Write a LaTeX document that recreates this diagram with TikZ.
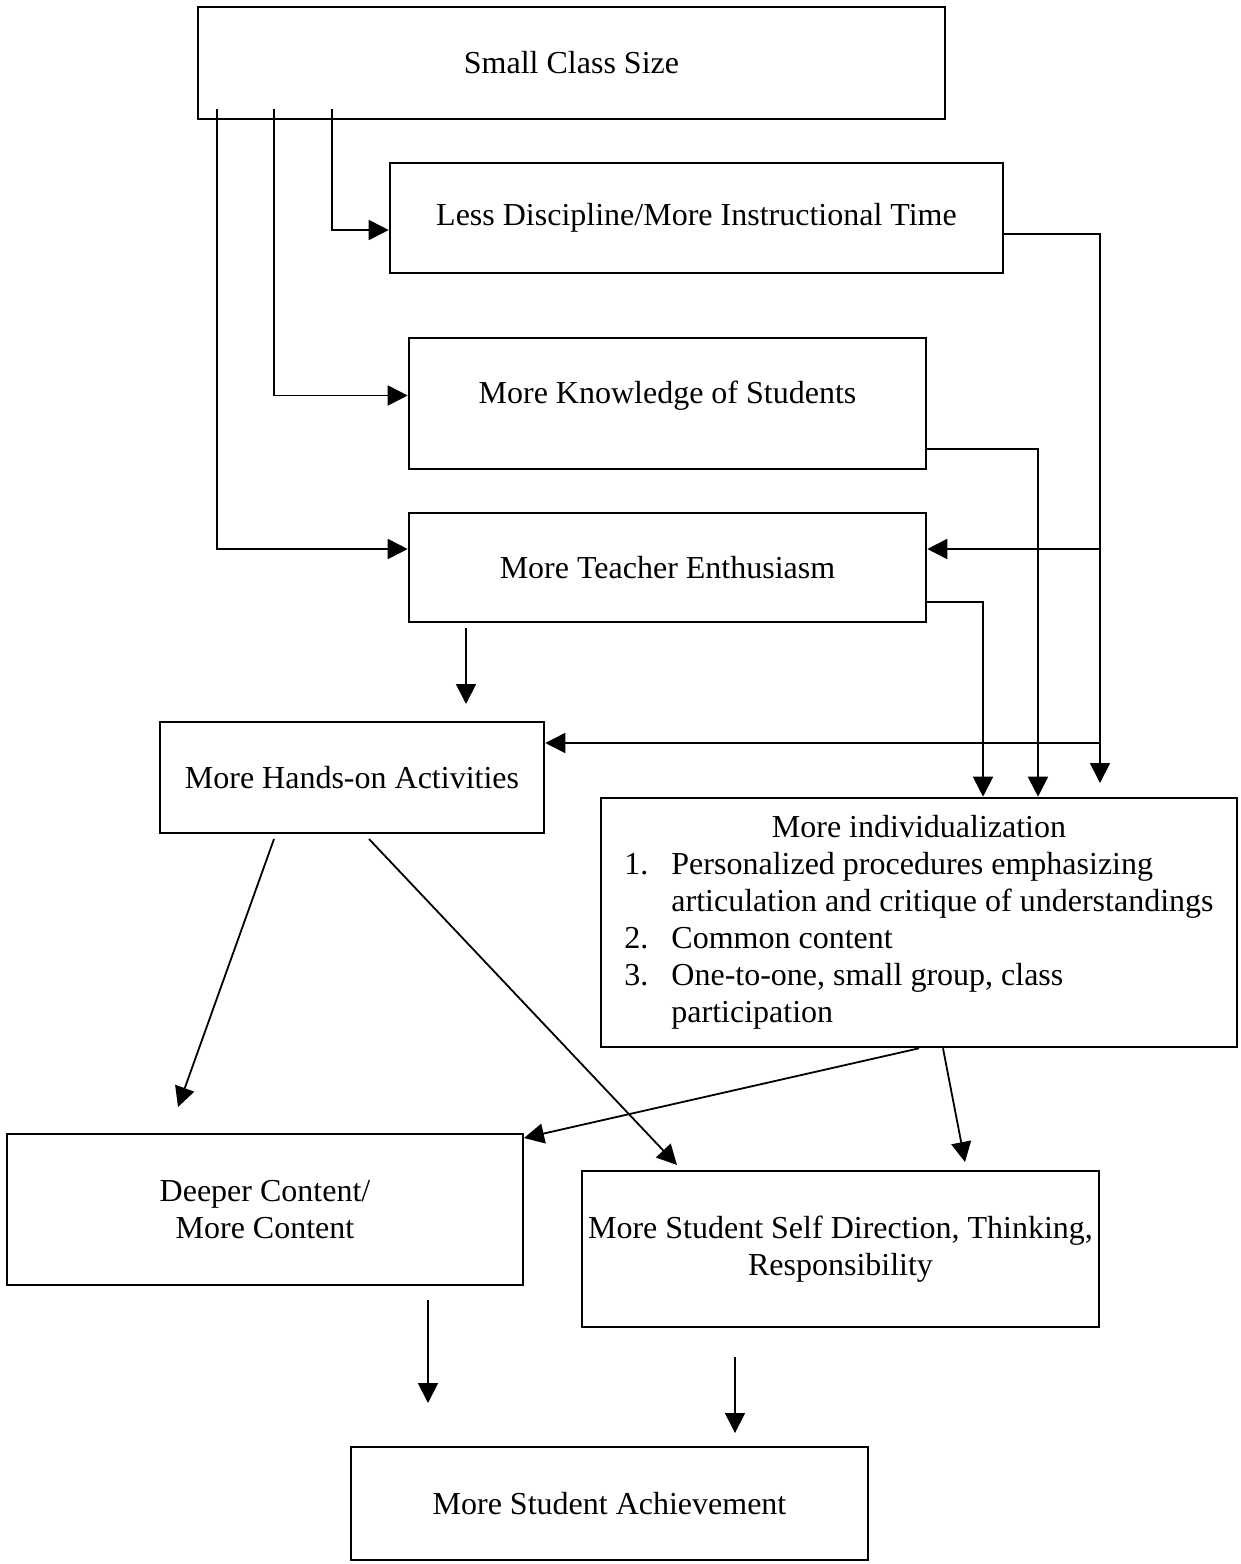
\documentclass[tikz,border=0pt]{standalone}
\usepackage{fontspec}
\setmainfont{Liberation Serif}
\usetikzlibrary{arrows.meta}
\begin{document}
\begin{tikzpicture}[x=1pt,y=-1pt,
  box/.style={draw, line width=2.6pt, inner sep=0pt, align=center, font=\fontsize{32}{37}\selectfont},
  arr/.style={line width=1.8pt, -{Triangle[length=20pt,width=20pt]}}]
\useasboundingbox (0,0) rectangle (1241,1564);
% boxes
\node[box, minimum width=747pt, minimum height=112pt] (scs) at (571.5,63) {Small Class Size};
\node[box, minimum width=613pt, minimum height=110pt] (ld) at (696.5,218) {Less Discipline/More Instructional Time};
\node[box, minimum width=517pt, minimum height=131pt, text depth=23pt] (kn) at (667.5,403.5) {More Knowledge of Students};
\node[box, minimum width=517pt, minimum height=109pt] (te) at (667.5,567.5) {More Teacher Enthusiasm};
\node[box, minimum width=384pt, minimum height=111pt] (ho) at (352,777.5) {More Hands-on Activities};
\node[box, minimum width=636pt, minimum height=249pt] (ind) at (919,922.5) {\begin{tabular}{@{}p{47pt}@{}l@{}}\multicolumn{2}{@{}c@{}}{More individualization}\\
1. & Personalized procedures emphasizing\\
 & articulation and critique of understandings\\
2. & Common content\\
3. & One-to-one, small group, class\\
 & participation\end{tabular}};
\node[box, minimum width=516pt, minimum height=151pt] (dc) at (265,1209.5) {Deeper Content/\\More Content};
\node[box, minimum width=517pt, minimum height=156pt] (sd) at (840.5,1249) {More Student Self Direction, Thinking,\\Responsibility};
\node[box, minimum width=517pt, minimum height=113pt] (ach) at (609.5,1503.5) {More Student Achievement};
% free ends
\coordinate (a1) at (332,109);
\coordinate (a2) at (274,109);
\coordinate (a3) at (217,109);
\coordinate (r1) at (1100,783);
\coordinate (b1) at (1100,549);
\coordinate (b2) at (1100,743);
\coordinate (c1) at (466,628);
\coordinate (c2) at (466,704);
\coordinate (d1) at (274,839);
\coordinate (d2) at (178,1107);
\coordinate (e1) at (369,839);
\coordinate (e2) at (677,1165);
\coordinate (f2) at (524,1138);
\coordinate (g2) at (965,1162);
\coordinate (h1) at (428,1300);
\coordinate (h2) at (428,1403);
\coordinate (k1) at (735,1357);
\coordinate (k2) at (735,1433);
% connectors
\draw[arr] (a1) |- ([yshift=-12pt]ld.west);
\draw[arr] (a2) |- ([yshift=8pt]kn.west);
\draw[arr] (a3) |- ([yshift=18.5pt]te.west);
\draw[arr] ([yshift=-16pt]ld.east) -| (r1);
\draw[arr] (b1) -- (te.east |- b1);
\draw[arr] (b2) -- (ho.east |- b2);
\draw[arr] ([yshift=-45.5pt]kn.east) -| ([xshift=119pt]ind.north);
\draw[arr] ([yshift=-34.5pt]te.east) -| ([xshift=64pt]ind.north);
\draw[arr] (c1) -- (c2);
\draw[arr] (d1) -- (d2);
\draw[arr] (e1) -- (e2);
\draw[arr] (ind.south) -- (f2);
\draw[arr] ([xshift=24pt]ind.south) -- (g2);
\draw[arr] (h1) -- (h2);
\draw[arr] (k1) -- (k2);
\end{tikzpicture}
\end{document}
